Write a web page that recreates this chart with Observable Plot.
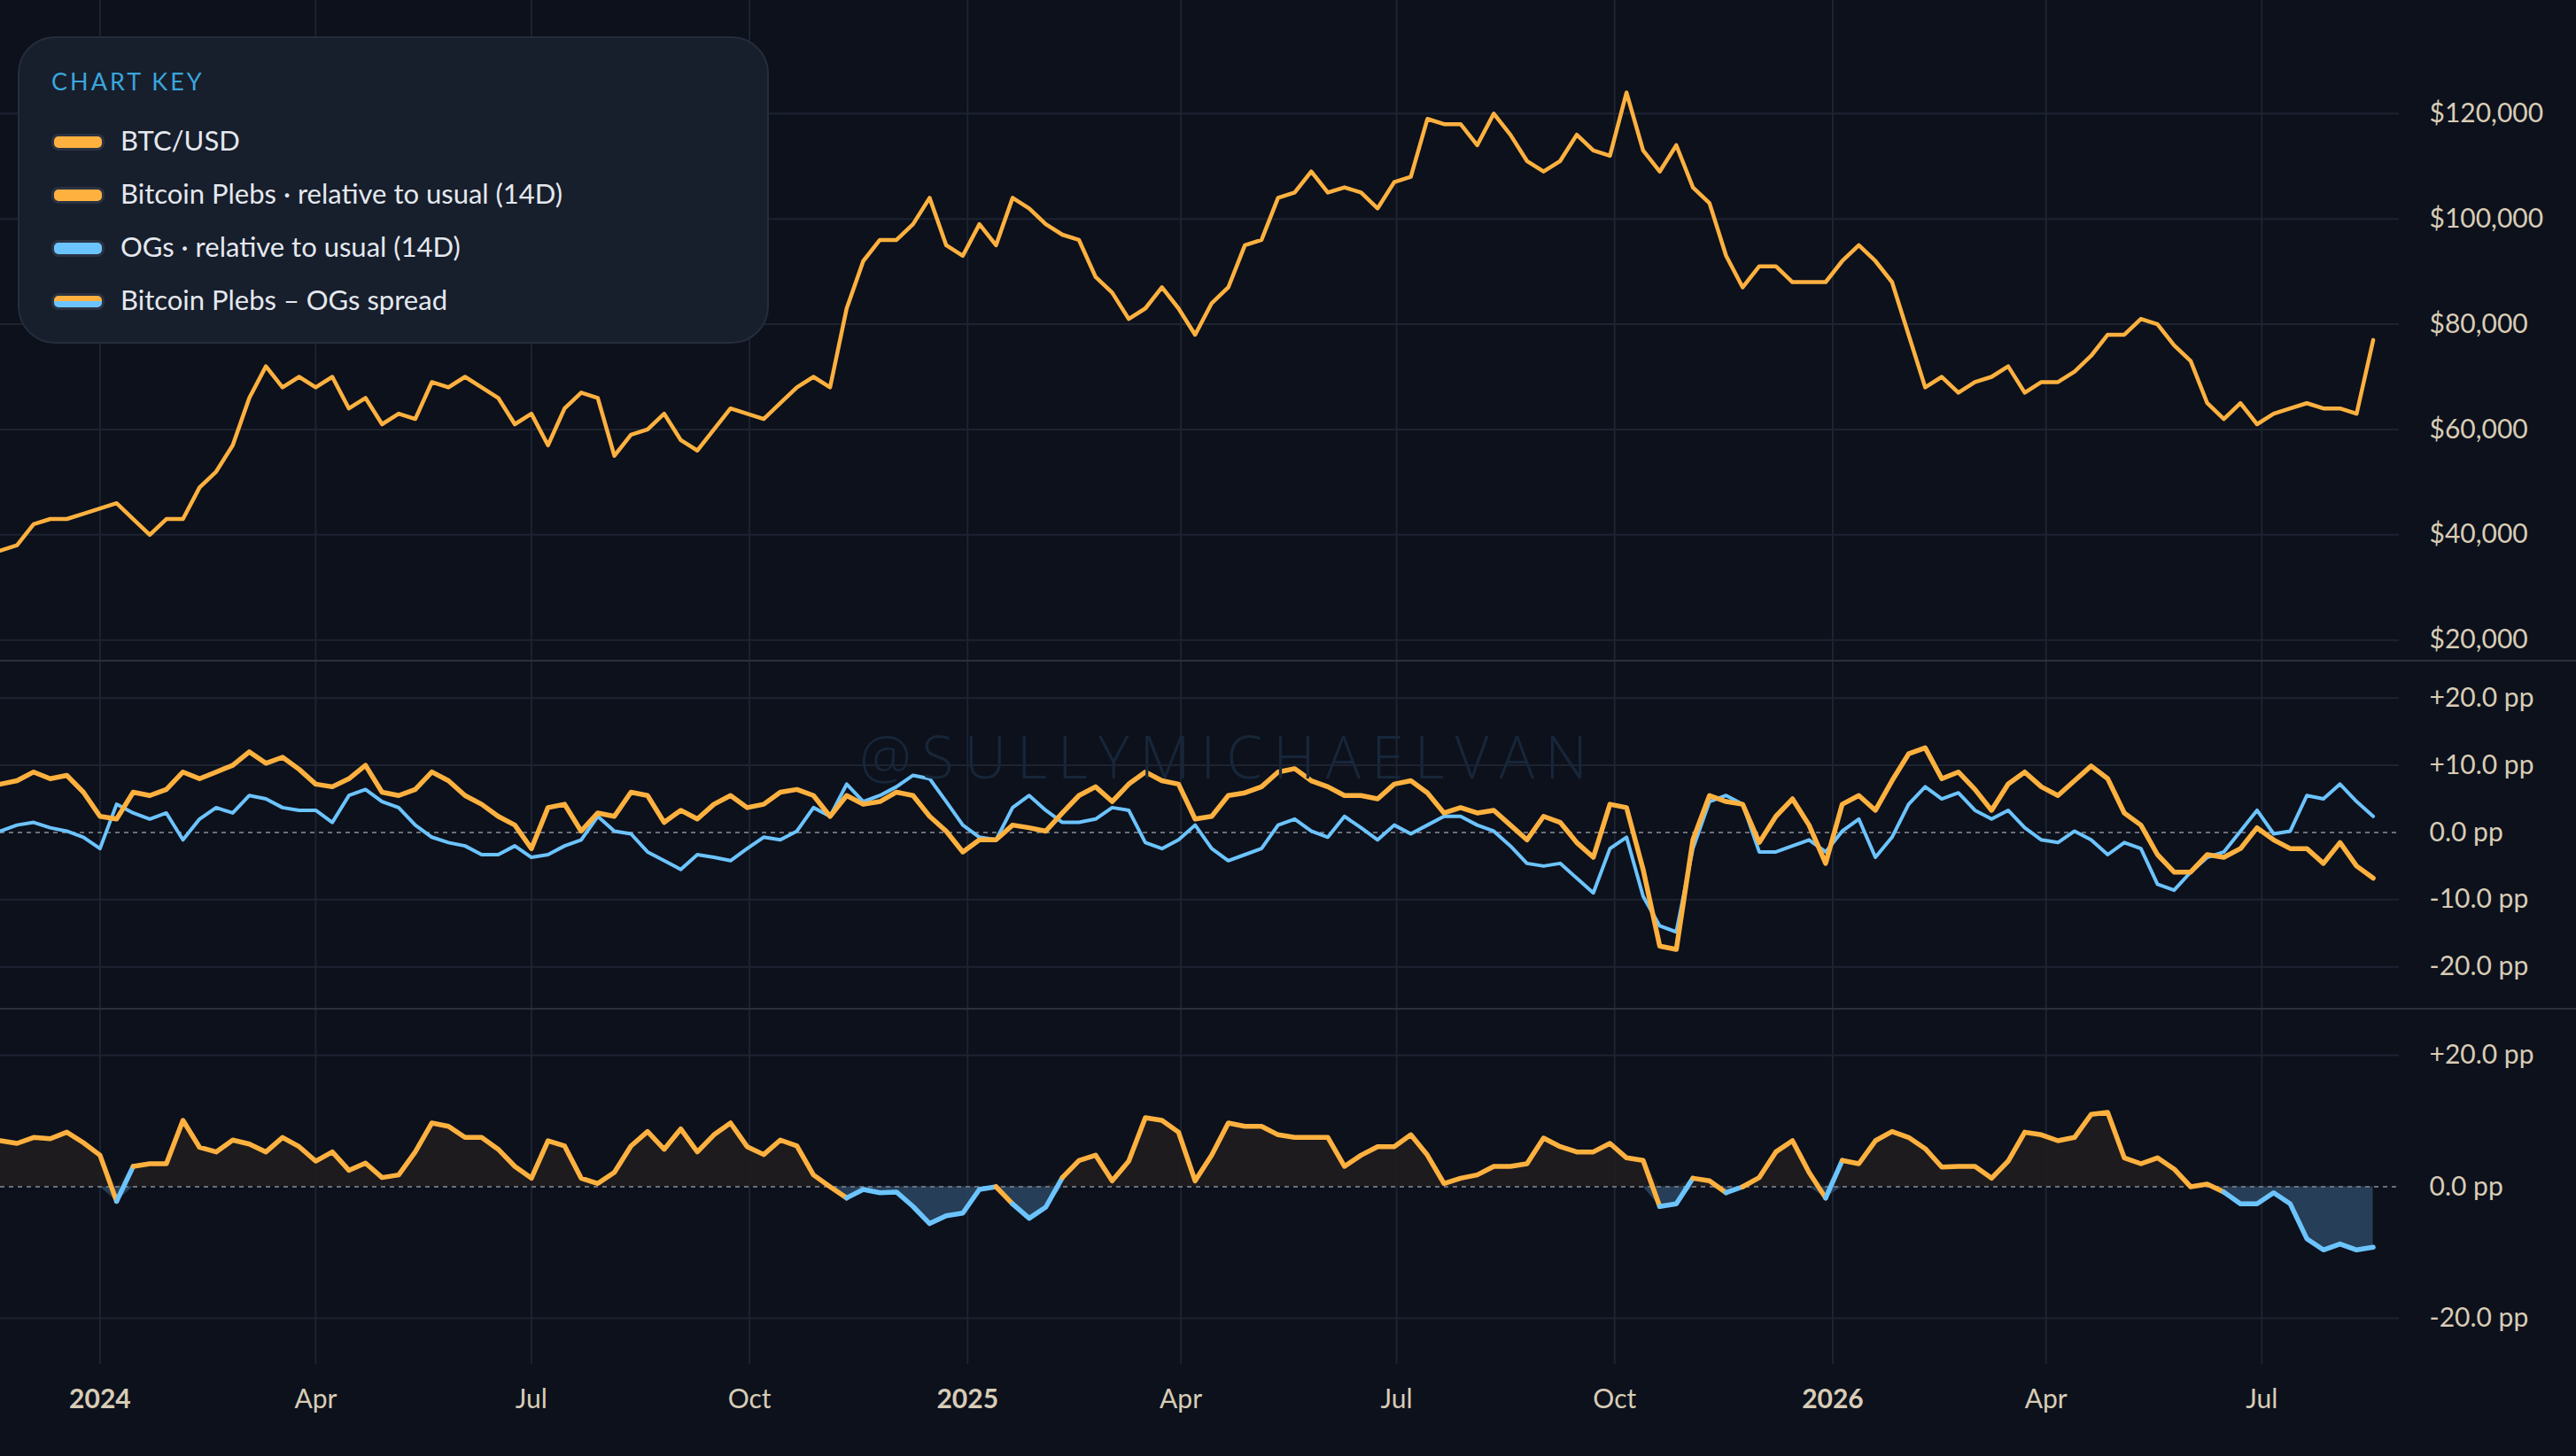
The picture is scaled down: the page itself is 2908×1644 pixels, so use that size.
<!DOCTYPE html>
<html><head><meta charset="utf-8">
<script src="https://cdn.jsdelivr.net/npm/d3@7"></script>
<script src="https://cdn.jsdelivr.net/npm/@observablehq/plot@0.6"></script>
<style>
body{margin:0;background:#0c111c;font-family:Lato,"Open Sans",sans-serif;}
#wrap{position:relative;width:2908px;height:1644px;overflow:hidden;background:#0c111c;}
.panel{position:absolute;left:0;}
.sep{position:absolute;left:0;width:2908px;height:2px;background:#2a2f3a;}
#legend{position:absolute;left:20px;top:41px;width:844px;height:343px;border-radius:42px;background:#171e2c;border:2px solid #252d3c;}
#legend .t{position:absolute;left:36px;top:32px;font-size:27px;letter-spacing:3px;color:#3aa6dc;}
#legend .it{position:absolute;left:36px;font-size:31px;color:#e4e8ee;height:40px;line-height:40px;}
#legend .sw{display:inline-block;width:54px;height:13px;border-radius:8px;border:3px solid #2a3242;vertical-align:middle;margin-right:18px;margin-top:-4px;}
#wm{position:absolute;left:0;width:2774px;text-align:center;top:808px;font-size:66px;letter-spacing:12px;color:#172639;font-family:"Open Sans",sans-serif;font-weight:300;}
</style></head><body>
<div id="wrap"></div>
<script>
// ---- data (weekly, starting Monday 2023-11-20) ----
const startDate = "2023-11-20";
const btc = [37,38, 42,43,43,44, 45,46,43,40,43, 43,49,52,57, 66,72,68,70, 68,70,64,66,61, 63,62,69,68, 70,68,66,61, 63,57,64,67,66, 55,59,60,63, 58,56,60,64,63, 62,65,68,70, 68,83,92,96, 96,99,104,95,93,
 99,95,104,102, 99,97,96,89, 86,81,83,87,83, 78,84,87,95, 96,104,105,109, 105,106,105,102,107, 108,119,118,118, 114,120,116,111, 109,111,116,113,112, 124,113,109,114, 106,103,93,87, 91,91,88,88,88,
 92,95,92,88, 78,68,70,67, 69,70,72,67,69, 69,71,74,78, 78,81,80,76, 73,65,62,65,61, 63,64,65,64, 64,63,77].map(v=>v*1000);
const plebs = [7.2,7.7, 9,8,8.5,6, 2.4,2,6,5.5,6.4, 9,8,9,10, 12,10.3,11.2,9.4, 7.2,6.8,8,10,6, 5.5,6.4,9,7.7, 5.5,4.2,2.4,1.1, -2.4,3.7,4.2,0.2,2.9, 2.4,6,5.5,1.5, 3.3,2,4.2,5.5,3.7, 4.2,6,6.4,5.5, 2.4,5.5,4.2,4.6, 6,5.5,2.4,0.2,-2.9,
 -1.1,-1.1,1.1,0.7, 0.2,2.9,5.5,6.8, 4.6,7.2,9,7.7,7.2, 2,2.4,5.5,5.9, 6.8,9,9.5,7.7, 6.8,5.5,5.5,5,7.2, 7.7,5.9,2.9,3.7, 2.9,3.3,1.1,-1.1, 2.4,1.5,-1.5,-3.7,4.2, 3.7,-5.5,-16.9,-17.4, -1.1,5.5,4.6,4.2, -1.5,2.4,5,1.1,-4.6,
 4.2,5.5,3.3,7.7, 11.7,12.6,8,9, 6.4,3.3,7.2,9,6.8, 5.5,7.7,9.9,8, 2.9,1.1,-3.3,-5.9, -5.9,-3.3,-3.7,-2.4,0.7, -1.1,-2.4,-2.4,-4.6, -1.5,-5,-6.8];
const ogs = [0.2,1.1, 1.5,0.7,0.2,-0.7, -2.4,4.2,2.9,2,2.9, -1.1,2,3.7,2.9, 5.5,5,3.7,3.3, 3.3,1.5,5.5,6.4,4.6, 3.7,1.1,-0.7,-1.5, -2,-3.3,-3.3,-2, -3.7,-3.3,-2,-1.1,2.4, 0.2,-0.2,-2.9,-4.2, -5.5,-3.3,-3.7,-4.2,-2.4, -0.7,-1.1,0.2,3.7, 2.4,7.2,4.6,5.5, 6.8,8.5,8,4.6,1.1,
 -0.7,-1.1,3.7,5.5, 3.3,1.5,1.5,2, 3.7,3.3,-1.5,-2.4,-1.1, 1.1,-2.4,-4.2,-3.3, -2.4,1.1,2,0.2, -0.7,2.4,0.7,-1.1,1.1, -0.2,1.1,2.4,2.4, 1.1,0.2,-2,-4.6, -5,-4.6,-6.8,-9,-2.4, -0.7,-9.5,-13.9,-14.8, -2.4,4.6,5.5,4.2, -2.9,-2.9,-2,-1.1,-2.9,
 0.2,2,-3.7,-0.7, 4.2,6.8,5,5.9, 3.3,2,3.3,0.7,-1.1, -1.5,0.2,-1.1,-3.3, -1.5,-2.4,-7.7,-8.6, -5.9,-3.7,-2.9,0.2,3.3, -0.2,0.2,5.5,5, 7.2,4.6,2.4];
const xTicks = ["2024-01-01","2024-04-01","2024-07-01","2024-10-01","2025-01-01","2025-04-01","2025-07-01","2025-10-01","2026-01-01","2026-04-01","2026-07-01"];
const priceTicks = [20000,40000,60000,80000,100000,120000];
const ppTicks = [-20,-10,0,10,20];
const spreadTicks = [-20,0,20];

// ---- build ----
const ORANGE="#ffb13f", BLUE="#6cc4ff", GRID="#1d2330", TXT="#d8ccb6";
const t0 = new Date(startDate);
const rows = btc.map((v,i)=>({date:d3.utcDay.offset(t0,7*i), btc:v, plebs:plebs[i], ogs:ogs[i], spread:+(plebs[i]-ogs[i]).toFixed(2)}));
const xDomain=[new Date("2023-11-20"), new Date("2026-08-28")];
const xT = xTicks.map(s=>new Date(s));
const common = {width:2908, marginLeft:0, marginRight:200, marginTop:0,
  style:{background:"transparent", fontFamily:"Lato, 'Open Sans', sans-serif", fontSize:"30px", color:TXT, overflow:"visible"},
  x:{type:"utc", domain:xDomain, label:null}};
const vgrid = Plot.ruleX(xT,{stroke:GRID, strokeWidth:2});
const yAxisR = (ticks, fmt)=>Plot.axisY(ticks,{anchor:"right", tickSize:0, tickPadding:34, tickFormat:fmt, fill:TXT, fontSize:30, textAnchor:"start", label:null});
const pp = d=> (d>0?"+":"")+d.toFixed(1)+" pp";

const p1 = Plot.plot({...common, height:746, marginBottom:0,
  y:{domain:[16000,141500], label:null},
  marks:[vgrid, Plot.ruleY(priceTicks,{stroke:GRID, strokeWidth:2}),
    Plot.line(rows,{x:"date",y:"btc",stroke:ORANGE,strokeWidth:4.5,curve:"linear"}),
    yAxisR(priceTicks, d3.format("$,.0f")), Plot.axisX({ticks:[], label:null})]});
const p2 = Plot.plot({...common, height:393, marginBottom:0,
  y:{domain:[-26.3,25.5], label:null},
  marks:[vgrid, Plot.ruleY([-20,-10,10,20],{stroke:GRID,strokeWidth:2}),
    Plot.ruleY([0],{stroke:"#6b6f78",strokeWidth:2,strokeDasharray:"5,5"}),
    Plot.line(rows,{x:"date",y:"ogs",stroke:BLUE,strokeWidth:4}),
    Plot.line(rows,{x:"date",y:"plebs",stroke:ORANGE,strokeWidth:5.5}),
    yAxisR(ppTicks, pp), Plot.axisX({ticks:[], label:null})]});
const p3 = Plot.plot({...common, height:505, marginBottom:104,
  y:{domain:[-27,27], label:null},
  marks:[vgrid, Plot.ruleY([-20,20],{stroke:GRID,strokeWidth:2}),
    Plot.areaY(rows,{x:"date",y1:0,y2:d=>Math.max(d.spread,0),fill:"#1f1d1e",fillOpacity:0.9}),
    Plot.areaY(rows,{x:"date",y1:0,y2:d=>Math.min(d.spread,0),fill:"#2b4661",fillOpacity:0.85}),
    Plot.ruleY([0],{stroke:"#6b6f78",strokeWidth:2,strokeDasharray:"5,5"}),
    Plot.line(rows,{x:"date",y:"spread",z:null,stroke:d=>d.spread>=0?ORANGE:BLUE,strokeWidth:5.5}),
    yAxisR(spreadTicks, pp),
    Plot.axisX(xT,{tickSize:0,tickPadding:28,fill:TXT,fontSize:30,label:null,
      tickFormat:d=>d.getUTCMonth()===0?String(d.getUTCFullYear()):d3.utcFormat("%b")(d)})]});

const wrap=document.getElementById("wrap");
[[p1,0],[p2,746],[p3,1139]].forEach(([p,top])=>{p.classList.add("panel");p.style.top=top+"px";p.style.position="absolute";wrap.appendChild(p);});
p3.querySelectorAll("text").forEach(t=>{if(/^\d{4}$/.test(t.textContent)) t.setAttribute("font-weight","bold");});
[746,1139].forEach(y=>{const s=document.createElement("div");s.className="sep";s.style.top=(y-1)+"px";wrap.appendChild(s);});
const wm=document.createElement("div");wm.id="wm";wm.textContent="@SULLYMICHAELVAN";wrap.appendChild(wm);

const lg=document.createElement("div");lg.id="legend";
lg.innerHTML=`<div class="t">CHART KEY</div>`;
const items=[["BTC/USD",ORANGE],["Bitcoin Plebs · relative to usual (14D)",ORANGE],["OGs · relative to usual (14D)",BLUE],["Bitcoin Plebs – OGs spread","split"]];
items.forEach(([lab,c],i)=>{const d=document.createElement("div");d.className="it";d.style.top=(95+i*60)+"px";
  const bg=c==="split"?`linear-gradient(${ORANGE} 50%, ${BLUE} 50%)`:c;
  d.innerHTML=`<span class="sw" style="background:${bg}"></span>${lab}`;lg.appendChild(d);});
wrap.appendChild(lg);
</script></body></html>
